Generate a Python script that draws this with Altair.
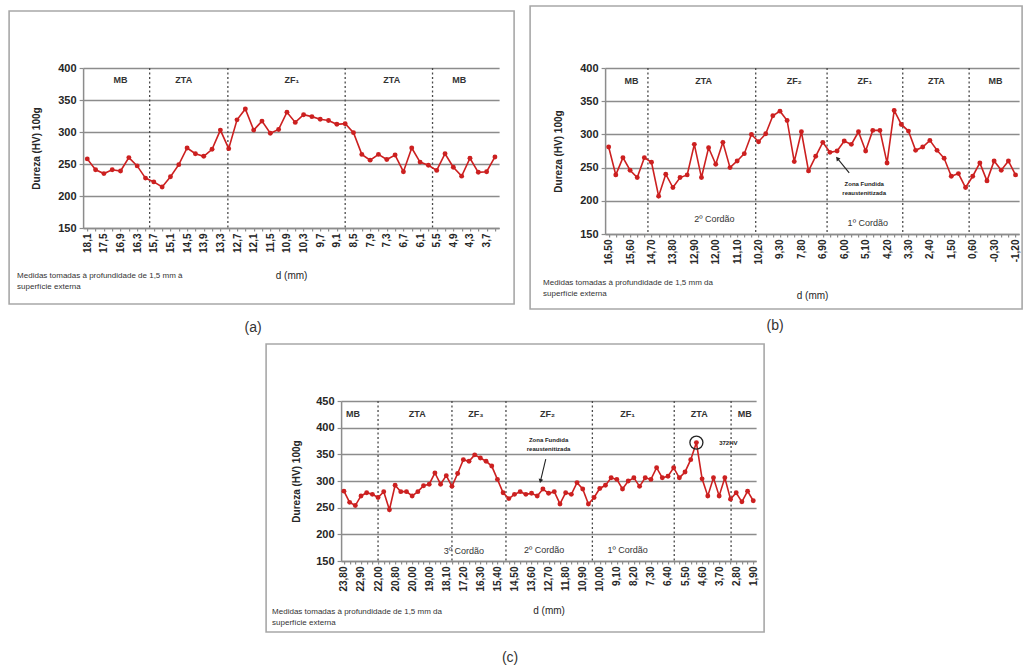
import json
import math

import altair as alt
import pandas as pd

FONT = "Liberation Sans, Arial, DejaVu Sans"
RED = "#cc2020"
GRID = "#8c8c8c"
INK = "#262626"
FRAME = "#a8a8a8"

# ---------------- panel (a) ----------------
a_labels = ["18,1", "17,5", "16,9", "16,3", "15,7", "15,1", "14,5", "13,9", "13,3",
            "12,7", "12,1", "11,5", "10,9", "10,3", "9,7", "9,1", "8,5", "7,9", "7,3",
            "6,7", "6,1", "5,5", "4,9", "4,3", "3,7"]
a_hv = [258, 241, 235, 241, 239, 260, 247, 228, 222, 214,
        230, 249, 275, 266, 262, 273, 303, 274, 319, 336,
        303, 317, 298, 304, 331, 315, 327, 324, 320, 318,
        312, 313, 299, 265, 256, 265, 257, 264, 238, 275,
        253, 248, 240, 266, 245, 231, 259, 237, 238, 261]
a_bounds = [7.5, 16.9, 31, 41.5]
a_zones = ["MB", "ZTA", "ZF₁", "ZTA", "MB"]
a_zone_pos = [4, 11.6, 24.6, 36.6, 44.7]

# ---------------- panel (b) ----------------
b_labels = ["16,50", "15,60", "14,70", "13,80", "12,90", "12,00", "11,10", "10,20",
            "9,30", "7,80", "6,90", "6,00", "5,10", "4,20", "3,30", "2,40", "1,50",
            "0,60", "-0,30", "-1,20"]
b_hv = [281, 239, 265, 246, 235, 265, 258, 207, 240, 220,
        235, 239, 285, 235, 280, 255, 288, 250, 260, 271,
        300, 289, 301, 328, 335, 321, 259, 304, 245, 267,
        288, 273, 275, 290, 285, 304, 275, 306, 306, 257,
        336, 315, 305, 276, 281, 291, 276, 264, 237, 241,
        220, 237, 257, 230, 260, 246, 260, 239]
b_bounds = [5.5, 20.6, 30.6, 41.2, 50.5]
b_zones = ["MB", "ZTA", "ZF₂", "ZF₁", "ZTA", "MB"]
b_zone_pos = [3.2, 13.3, 26, 35.9, 45.9, 54.2]
b_passes = ["2º Cordão", "1º Cordão"]
b_pass_pos = [14.8, 36.3]
b_pass_hv = [173, 167]

# ---------------- panel (c) ----------------
c_labels = ["23,80", "22,90", "22,00", "20,80", "20,00", "19,00", "18,10", "17,20",
            "16,30", "15,40", "14,50", "13,60", "12,70", "11,80", "10,90", "10,00",
            "9,10", "8,20", "7,30", "6,40", "5,50", "4,60", "3,70", "2,80", "1,90"]
c_hv = [281, 260, 254, 272, 278, 275, 269, 280, 246, 292,
        280, 280, 272, 280, 291, 294, 315, 294, 310, 290,
        314, 340, 337, 349, 343, 337, 328, 303, 278, 267,
        275, 280, 275, 277, 272, 285, 277, 280, 257, 278,
        275, 297, 285, 257, 269, 286, 292, 306, 303, 285,
        300, 306, 290, 306, 303, 325, 306, 309, 325, 306,
        317, 340, 372, 304, 272, 306, 272, 306, 266, 278,
        261, 281, 263]
c_bounds = [6.0, 19.0, 28.5, 43.7, 58.1, 68.1]
c_zones = ["MB", "ZTA", "ZF₃", "ZF₂", "ZF₁", "ZTA", "MB"]
c_zone_pos = [1.6, 12.9, 23.2, 35.8, 49.9, 62.5, 70.5]
c_passes = ["3º Cordão", "2º Cordão", "1º Cordão"]
c_pass_pos = [21.1, 35.2, 49.9]
c_pass_hv = [169, 171, 171]
c_peak = 62

NOTE_A = ["Medidas tomadas à profundidade de 1,5 mm à", "superfície externa"]
NOTE_BC = ["Medidas tomadas à profundidade de 1,5 mm da", "superfície externa"]
REMELT = ["Zona Fundida", "reaustenitizada"]


def one():
    return pd.DataFrame({"k": [0]})


def panel(hv, labels, step, ymax, bounds, zones, zone_pos, zone_hv, w, h,
          frame, note, note_xy, caption, cap_xy, xpad, ypad,
          passes=None, pass_pos=None, pass_hv=None, arrow=None, peak=None):
    n = len(hv)
    xs = alt.Scale(domain=[-0.5, n - 0.5], nice=False, zero=False)
    ys = alt.Scale(domain=[150, ymax], nice=False, zero=False)
    expr = (f"datum.value % {step} == 0 ? "
            f"{json.dumps(labels, ensure_ascii=False)}[datum.value / {step}] : ''")
    X = alt.X("i:Q", scale=xs, title="d (mm)",
              axis=alt.Axis(values=list(range(n)), labelExpr=expr, labelAngle=-90,
                            grid=False, titlePadding=xpad, labelFlush=False,
                            labelOverlap=False))
    Y = alt.Y("hv:Q", scale=ys, title="Dureza (HV) 100g",
              axis=alt.Axis(values=list(range(150, ymax + 1, 50)), grid=True,
                            titlePadding=ypad))

    layers = []
    # chart border drawn around axes, notes and plot
    x0, x1, y0, y1 = frame
    layers.append(alt.Chart(one()).mark_rect(fill="white", fillOpacity=0, stroke=FRAME,
                                             strokeWidth=1.6)
                  .encode(x=alt.value(x0), x2=alt.value(x1), y=alt.value(y0), y2=alt.value(y1)))

    layers.append(alt.Chart(pd.DataFrame({"i": bounds}))
                  .mark_rule(color="#4a4a4a", strokeDash=[2, 2.5], strokeWidth=1.3)
                  .encode(x=X))

    pts = pd.DataFrame({"i": list(range(n)), "hv": hv})
    layers.append(alt.Chart(pts).mark_line(color=RED, strokeWidth=1.6).encode(x=X, y=Y))
    layers.append(alt.Chart(pts).mark_point(filled=True, size=24, color=RED, opacity=1)
                  .encode(x=X, y=Y))

    zdf = pd.DataFrame({"i": zone_pos, "hv": [zone_hv] * len(zones), "t": zones})
    layers.append(alt.Chart(zdf).mark_text(fontSize=9, fontWeight="bold", color="#333")
                  .encode(x=X, y=Y, text="t:N"))

    if passes:
        pdf = pd.DataFrame({"i": pass_pos, "hv": pass_hv, "t": passes})
        layers.append(alt.Chart(pdf).mark_text(fontSize=9, color="#333")
                      .encode(x=X, y=Y, text="t:N"))

    if arrow:
        (ti, th), (hi, hh), (txi, txh) = arrow
        adf = pd.DataFrame({"i": [ti, hi], "hv": [th, hh]})
        layers.append(alt.Chart(adf).mark_line(color="#222", strokeWidth=1.1)
                      .encode(x=X, y=Y))
        dx = (hi - ti) * w / n
        dy = -(hh - th) * h / (ymax - 150)
        ang = math.degrees(math.atan2(dx, -dy)) % 360
        layers.append(alt.Chart(pd.DataFrame({"i": [hi], "hv": [hh]}))
                      .mark_point(shape="triangle", filled=True, size=22, color="#222",
                                  opacity=1, angle=round(ang, 1))
                      .encode(x=X, y=Y))
        tdf = pd.DataFrame({"i": [txi, txi], "hv": [txh, txh - (ymax - 150) * 0.055],
                            "t": REMELT})
        layers.append(alt.Chart(tdf).mark_text(fontSize=6, fontWeight="bold", color="#222")
                      .encode(x=X, y=Y, text="t:N"))

    if peak is not None:
        pv = hv[peak]
        kdf = pd.DataFrame({"i": [peak], "hv": [pv]})
        layers.append(alt.Chart(kdf).mark_point(shape="circle", size=170, color="#222",
                                                strokeWidth=1.3, opacity=1)
                      .encode(x=X, y=Y))
        ldf = pd.DataFrame({"i": [peak + 4.0], "hv": [pv], "t": [f"{pv}HV"]})
        layers.append(alt.Chart(ldf).mark_text(fontSize=6, fontWeight="bold", color="#222",
                                               align="left")
                      .encode(x=X, y=Y, text="t:N"))

    nx, ny = note_xy
    for k, line in enumerate(note):
        layers.append(alt.Chart(one()).mark_text(align="left", fontSize=8, color="#333")
                      .encode(x=alt.value(nx), y=alt.value(ny + 11 * k), text=alt.value(line)))

    cx, cy = cap_xy
    layers.append(alt.Chart(one()).mark_text(fontSize=14, color="#333")
                  .encode(x=alt.value(cx), y=alt.value(cy), text=alt.value(caption)))

    return alt.layer(*layers).properties(width=w, height=h)


pa = panel(a_hv, a_labels, 2, 400, a_bounds, a_zones, a_zone_pos, 382, 416, 160,
           (-74, 431, -57, 236), NOTE_A, (-66, 208), "(a)", (170, 260), 18, 16)

pb = panel(b_hv, b_labels, 3, 400, b_bounds, b_zones, b_zone_pos, 381, 414, 166,
           (-75, 417, -62, 241), NOTE_BC, (-62, 215), "(b)", (170, 258), 26, 16,
           passes=b_passes, pass_pos=b_pass_pos, pass_hv=b_pass_hv,
           arrow=((33.7, 242), (32.1, 263), (35.8, 225)))

pc = panel(c_hv, c_labels, 3, 450, c_bounds, c_zones, c_zone_pos, 426, 415, 160,
           (-75, 423, -57, 231), NOTE_BC, (-69, 211), "(c)", (169, 257), 14, 14,
           passes=c_passes, pass_pos=c_pass_pos, pass_hv=c_pass_hv,
           arrow=((35.5, 341), (34.6, 301), (36, 376)), peak=c_peak)

chart = (
    alt.vconcat(alt.hconcat(pa, pb, spacing=14), pc, spacing=8, center=True)
    .properties(padding={"left": 8, "top": 5, "right": 0, "bottom": 0},
                background="white")
    .configure(font=FONT)
    .configure_view(stroke=None)
    .configure_axis(
        domainColor=GRID, domainWidth=1.5, tickColor=GRID, tickWidth=1.2,
        gridColor=GRID, gridWidth=1.5, labelColor=INK, labelFont=FONT,
        titleFont=FONT, titleColor=INK,
    )
    .configure_axisX(labelFontSize=10, labelFontWeight="bold", tickSize=3,
                     labelPadding=2, titleFontSize=10, titleFontWeight="normal")
    .configure_axisY(labelFontSize=11, labelFontWeight="bold", tickSize=4,
                     labelPadding=3, titleFontSize=10, titleFontWeight="bold")
)

chart.save("out.html", embed_options={"renderer": "svg", "actions": False})
